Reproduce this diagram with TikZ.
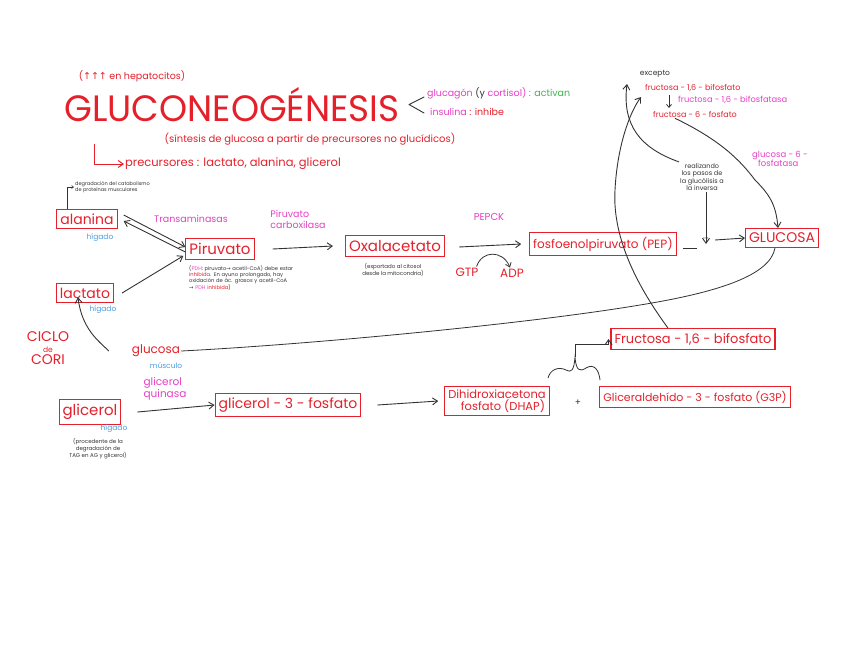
\documentclass[tikz,border=0pt]{standalone}
\usepackage{fontspec}
\setmainfont{Poppins}
\newfontfamily\symf{DejaVu Sans}
\usetikzlibrary{arrows.meta}
\definecolor{rd}{HTML}{E5202B}
\definecolor{mg}{HTML}{E640C6}
\definecolor{bl}{HTML}{4D9DE0}
\definecolor{gr}{HTML}{3DB54A}
\definecolor{dk}{HTML}{333333}
\tikzset{
  box/.style={draw=rd, line width=1.1pt, text=rd, inner xsep=3.5pt, inner ysep=4.5pt, font=\fontsize{13}{15}\selectfont},
  redt/.style={text=rd, inner sep=1pt},
  mgt/.style={text=mg, inner sep=1pt},
  blt/.style={text=bl, inner sep=1pt, font=\fontsize{7.5}{8}\selectfont},
  tiny/.style={text=dk, inner sep=1pt, font=\fontsize{5}{5.8}\selectfont},
  conn/.style={draw=dk, line width=0.9pt, -{Straight Barb[length=5pt,width=7pt]}},
  line/.style={draw=dk, line width=0.8pt}
}
\begin{document}
\begin{tikzpicture}[x=1pt,y=-1pt]
\useasboundingbox (0,0) rectangle (848,656);
\fill[white] (0,0) rectangle (848,656);

% title block
\node[redt, font=\fontsize{9.5}{10}\selectfont] (hep) at (132,76) {({\symf ↑↑↑} en hepatocitos)};
\node[redt, inner sep=0pt] (title) at (232,105) {\resizebox{335pt}{34pt}{GLUCONEOGÉNESIS}};
\draw[dk, line width=0.9pt, line cap=round, line join=round] (424,97) -- (409,104.5) -- (424,113);
\node[anchor=west, inner sep=1pt, font=\fontsize{9.5}{10}\selectfont] (reg1) at (426,93) {\textcolor{mg}{glucagón} \textcolor{dk}{(y} \textcolor{mg}{cortisol)} \textcolor{gr}{: activan}};
\node[anchor=west, inner sep=1pt, font=\fontsize{9.5}{10}\selectfont] (reg2) at (429,112) {\textcolor{mg}{insulina} \textcolor{rd}{: inhibe}};
\node[redt, font=\fontsize{10}{11}\selectfont] (sint) at (310,139) {(síntesis de glucosa a partir de precursores no glucídicos)};
\node[redt, anchor=west, font=\fontsize{11.5}{12}\selectfont] (prec) at (124,164) {precursores : lactato, alanina, glicerol};
\coordinate (Lc) at (94,144);
\draw[draw=rd, line width=1pt, -{Straight Barb[length=5pt,width=7pt]}] (Lc) |- (prec.west);

% top right
\node[text=dk, inner sep=1pt, font=\fontsize{7.5}{8}\selectfont] (excepto) at (655,74) {excepto};
\node[redt, anchor=west, font=\fontsize{8}{8}\selectfont] (f16a) at (644,88) {fructosa - 1,6 - bifosfato};
\node[mgt, anchor=west, font=\fontsize{8.3}{8}\selectfont] (f16asa) at (677,100) {fructosa - 1,6 - bifosfatasa};
\node[redt, anchor=west, font=\fontsize{8}{8}\selectfont] (f6p) at (652,114) {fructosa - 6 - fosfato};
\coordinate (dA) at (669,95);
\coordinate (dB) at (669,108);
\draw[conn, line width=0.8pt, -{Straight Barb[length=3pt,width=5pt]}] (dA) -- (dB);
\node[mgt, align=left, font=\fontsize{8.5}{9.5}\selectfont] (g6pasa) at (780,159) {glucosa - 6 -\\[-1pt]\hspace{6pt}fosfatasa};
\node[text=dk, align=center, inner sep=1pt, font=\fontsize{6.5}{7.6}\selectfont] (realiz) at (702,177) {realizando\\los pasos de\\la glucólisis a\\la inversa};
\coordinate (exctip) at (627,84);
\coordinate (f16tip) at (641,97);

% main row
\node[box, font=\fontsize{14}{15}\selectfont] (alanina) at (87,219) {alanina};
\node[blt] (hig1) at (100,238) {hígado};
\node[tiny, anchor=west, align=left] (degr) at (74,187) {degradación del catabolismo\\de proteínas musculares};
\draw[line, line width=0.6pt, -{Straight Barb[length=2pt,width=3pt]}] (alanina.north -| 67,0) |- (degr.west);

\node[box, font=\fontsize{15}{16}\selectfont] (piruvato) at (220,249) {Piruvato};
\node[tiny, anchor=north west, align=left, text width=104pt, font=\fontsize{5.2}{6.4}\selectfont] (pnote) at (188,264)
 {(\textcolor{mg}{PDH}: piruvato{\symf →} acetil-CoA) debe estar \textcolor{rd}{inhibida}. En ayuno prolongado, hay oxidación de ác. grasos y acetil-CoA {\symf →} \textcolor{mg}{PDH} \textcolor{rd}{inhibida})};
\node[mgt, font=\fontsize{9.5}{10}\selectfont] (transam) at (191,219) {Transaminasas};
\node[mgt, align=left, font=\fontsize{9.5}{11}\selectfont] (pcarb) at (298,219) {Piruvato\\carboxilasa};

\node[box, font=\fontsize{15}{16}\selectfont] (oxal) at (395,246) {Oxalacetato};
\node[tiny, align=center, font=\fontsize{5.5}{6.4}\selectfont] (oxnote) at (393,270) {(exportado al citosol\\desde la mitocondria)};
\node[mgt, font=\fontsize{10}{10}\selectfont] (pepck) at (489,217) {PEPCK};
\node[redt, font=\fontsize{12}{12}\selectfont] (gtp) at (467,272) {GTP};
\node[redt, font=\fontsize{12}{12}\selectfont] (adp) at (512,273) {ADP};

\node[box, font=\fontsize{12}{13}\selectfont] (pep) at (603,244) {fosfoenolpiruvato (PEP)};
\node[box, font=\fontsize{14}{15}\selectfont] (glucosa) at (782,238) {GLUCOSA};
\node[text=dk, inner sep=0pt, font=\fontsize{9}{9}\selectfont] (dotsn) at (706,240) {···};

\node[box, font=\fontsize{14}{15}\selectfont] (lactato) at (85,293) {lactato};
\node[blt] (hig2) at (103,310) {hígado};

\node[redt, align=center, font=\fontsize{14}{13}\selectfont] (cori) at (48,348) {CICLO\\[-2pt]{\fontsize{7.5}{7}\selectfont de}\\[-1pt]CORI};
\node[redt, font=\fontsize{12}{13}\selectfont] (glcm) at (156,351) {glucosa};
\node[blt] (musc) at (166,366) {músculo};

% glycerol row
\node[box, font=\fontsize{15}{16}\selectfont] (glicerol) at (90,412) {glicerol};
\node[blt] (hig3) at (114,429) {hígado};
\node[tiny, align=center, font=\fontsize{5.5}{6.4}\selectfont] (gnote) at (98,449) {(procedente de la\\degradación de\\TAG en AG y glicerol)};
\node[mgt, align=left, font=\fontsize{10.5}{10.5}\selectfont] (gq) at (165,389) {glicerol\\quinasa};
\node[box, font=\fontsize{14}{15}\selectfont] (g3pg) at (288,405) {glicerol - 3 - fosfato};
\node[box, align=center, inner ysep=3pt, font=\fontsize{11.5}{12}\selectfont] (dhap) at (497,401) {Dihidroxiacetona\\\hspace{12pt}fosfato (DHAP)};
\node[text=dk, inner sep=0pt, font=\fontsize{9}{9}\selectfont] (plus) at (578,403) {+};
\node[box, font=\fontsize{11}{12}\selectfont] (g3p) at (695,397) {Gliceraldehído - 3 - fosfato (G3P)};
\node[box, font=\fontsize{13}{14}\selectfont] (f16bp) at (693,339) {Fructosa - 1,6 - bifosfato};

% connectors
\draw[conn] ([yshift=-3pt]piruvato.west) -- ([shift={(6pt,-2pt)}]alanina.east);
\draw[conn] ([shift={(6pt,4pt)}]alanina.east) -- ([yshift=2pt]piruvato.west);
\draw[conn] ([xshift=8pt]lactato.east) -- ([shift={(-2pt,4pt)}]piruvato.south west);
\draw[conn] ([xshift=18pt]piruvato.east) -- ([xshift=-12pt]oxal.west);
\draw[conn] ([xshift=14pt,yshift=-1pt]oxal.east) -- ([xshift=-8pt]pep.west);
\draw[line, -{Straight Barb[length=4pt,width=6pt]}] ([xshift=-3pt]gtp.north east) .. controls (482,250) and (503,250) .. ([xshift=-2pt]adp.north);
\draw[line] ([xshift=6pt,yshift=-4pt]pep.east) -- ++(14pt,0);
\draw[conn] ([xshift=6pt]dotsn.east) -- (glucosa.west);
\draw[conn] ([xshift=-22pt]glcm.west) .. controls (100,342) and (82,330) .. ([shift={(-7pt,6pt)}]lactato.south);
\draw[line] (glcm.east) .. controls (300,345) and (520,325) .. (640,305) .. controls (720,292) and (770,275) .. ([xshift=-7pt]glucosa.south);
\draw[conn] ([xshift=16pt]glicerol.east) -- (g3pg.west);
\draw[conn] ([xshift=16pt]g3pg.east) -- ([xshift=-6pt]dhap.west);
% brace
\coordinate (brL) at (548,378);
\coordinate (brR) at (600,380);
\coordinate (brM) at (575,357);
\draw[line] (brL) .. controls (550,370) and (558,366) .. (566,370) .. controls (571,373) and (574,371) .. (brM) .. controls (576,371) and (580,372) .. (586,368) .. controls (594,363) and (599,370) .. (brR);
\draw[conn] (brM) -- ++(0,-13) -| ([xshift=-2pt]f16bp.west);
% long curves top right
\draw[conn] ([xshift=-25pt]f16bp.north) .. controls (640,290) and (612,240) .. (615,190) .. controls (617,150) and (628,115) .. (f16tip);
\draw[conn] (realiz.north west) .. controls (640,148) and (622,125) .. (exctip);
\draw[conn] ([xshift=-20pt]f6p.south) .. controls (720,140) and (740,160) .. (755,180) .. controls (770,195) and (776,205) .. ([xshift=-4pt]glucosa.north);
\draw[conn] ([xshift=4pt]realiz.south) -- ([yshift=-6pt]dotsn.north);
\end{tikzpicture}
\end{document}
